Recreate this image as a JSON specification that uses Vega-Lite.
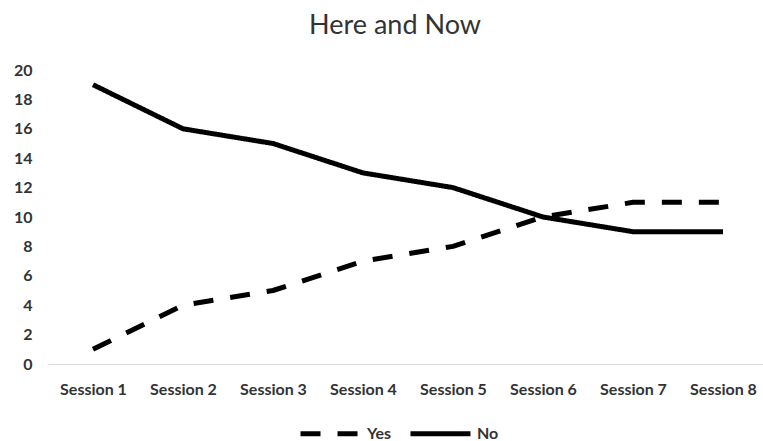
{
  "$schema": "https://vega.github.io/schema/vega-lite/v6.json",
  "width": 720,
  "height": 294,
  "autosize": {"type": "none"},
  "padding": {"left": 48, "top": 70, "right": 0, "bottom": 77},
  "background": "white",
  "title": {
    "text": "Here and Now",
    "font": "Lato",
    "fontSize": 27,
    "fontWeight": "normal",
    "color": "#333333",
    "anchor": "middle",
    "dx": -13,
    "offset": 22
  },
  "config": {
    "view": {"stroke": null},
    "font": "Lato"
  },
  "data": {
    "values": [
      {"session": "Session 1", "series": "Yes", "value": 1},
      {"session": "Session 2", "series": "Yes", "value": 4},
      {"session": "Session 3", "series": "Yes", "value": 5},
      {"session": "Session 4", "series": "Yes", "value": 7},
      {"session": "Session 5", "series": "Yes", "value": 8},
      {"session": "Session 6", "series": "Yes", "value": 10},
      {"session": "Session 7", "series": "Yes", "value": 11},
      {"session": "Session 8", "series": "Yes", "value": 11},
      {"session": "Session 1", "series": "No", "value": 19},
      {"session": "Session 2", "series": "No", "value": 16},
      {"session": "Session 3", "series": "No", "value": 15},
      {"session": "Session 4", "series": "No", "value": 13},
      {"session": "Session 5", "series": "No", "value": 12},
      {"session": "Session 6", "series": "No", "value": 10},
      {"session": "Session 7", "series": "No", "value": 9},
      {"session": "Session 8", "series": "No", "value": 9}
    ]
  },
  "mark": {"type": "line", "strokeWidth": 5, "color": "black", "strokeCap": "butt", "strokeJoin": "round"},
  "encoding": {
    "x": {
      "field": "session",
      "type": "ordinal",
      "scale": {"type": "point", "padding": 0.5},
      "axis": {
        "title": null,
        "labelAngle": 0,
        "ticks": false,
        "domainColor": "#d9d9d9",
        "domainWidth": 1,
        "labelPadding": 17,
        "labelFont": "Lato",
        "labelFontSize": 16,
        "labelFontWeight": "bold",
        "labelColor": "#333333"
      }
    },
    "y": {
      "field": "value",
      "type": "quantitative",
      "scale": {"domain": [0, 20], "nice": false},
      "axis": {
        "title": null,
        "values": [0, 2, 4, 6, 8, 10, 12, 14, 16, 18, 20],
        "grid": false,
        "domain": false,
        "ticks": false,
        "labelPadding": 16,
        "labelFont": "Lato",
        "labelFontSize": 16,
        "labelFontWeight": "bold",
        "labelColor": "#333333"
      }
    },
    "strokeDash": {
      "field": "series",
      "type": "nominal",
      "scale": {"domain": ["Yes", "No"], "range": [[20, 17], [1, 0]]},
      "legend": {
        "title": null,
        "orient": "none",
        "legendX": 250,
        "legendY": 331,
        "direction": "horizontal",
        "symbolType": "stroke",
        "symbolSize": 3600,
        "symbolStrokeWidth": 5,
        "symbolStrokeColor": "black",
        "labelFont": "Lato",
        "labelFontSize": 16,
        "labelFontWeight": "bold",
        "labelColor": "#333333",
        "labelOffset": 4,
        "columnPadding": 8
      }
    }
  }
}
